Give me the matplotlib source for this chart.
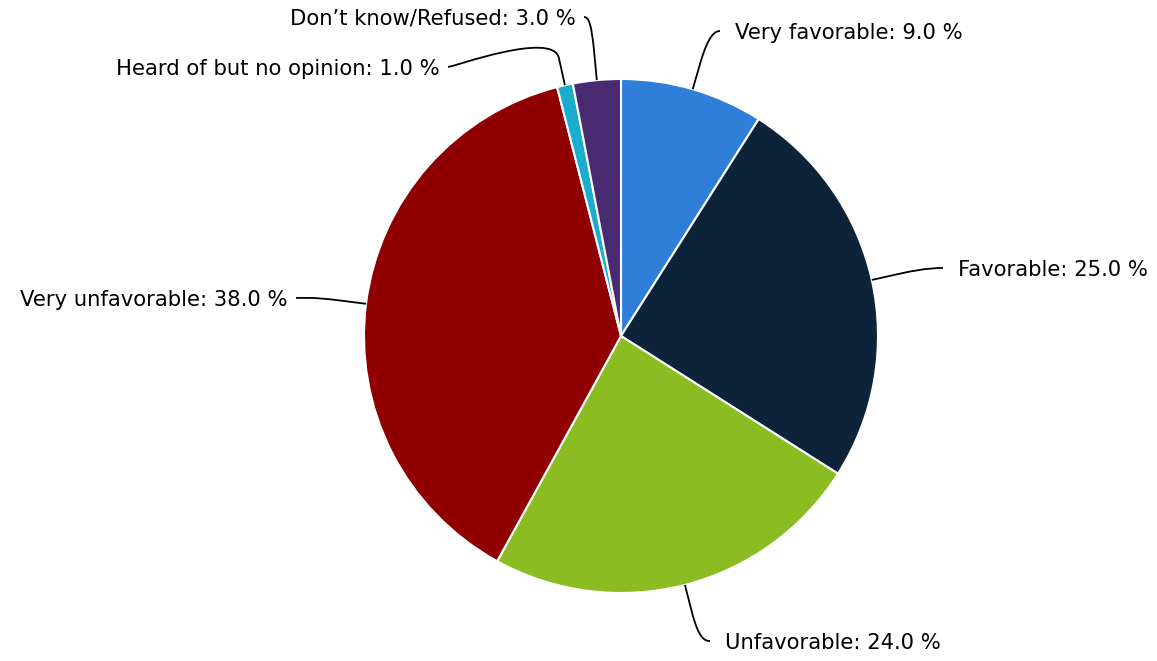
import numpy as np
import matplotlib.pyplot as plt
from matplotlib.path import Path
from matplotlib.patches import PathPatch

# survey answers, clockwise from 12 o'clock
categories = ['Very favorable', 'Favorable', 'Unfavorable', 'Very unfavorable',
              'Heard of but no opinion', 'Don\u2019t know/Refused']
shares = [9.0, 25.0, 24.0, 38.0, 1.0, 3.0]
colors = ['#2f7ed8', '#0d233a', '#8bbc21', '#910000', '#1aadce', '#492970']

W, H = 1157, 661
cx, cy, radius = 621, H - 336, 257
brk_off = 28  # connector break point, beyond the rim

# label anchor (px from left, px from top) and which side the label sits on
label_pos = [(735, 33), (958, 270), (725, 643), (288, 300), (440, 69), (576, 19)]
label_side = [1, 1, 1, -1, -1, -1]

fig = plt.figure(figsize=(W / 100, H / 100), dpi=100)
ax = fig.add_axes([0, 0, 1, 1])
wedges, _ = ax.pie(shares, colors=colors, startangle=90, counterclock=False,
                   center=(cx, cy), radius=radius,
                   wedgeprops=dict(edgecolor='white', linewidth=1.5))
ax.set_xlim(0, W)
ax.set_ylim(0, H)
ax.set_aspect('equal')
ax.axis('off')

for w, name, val, (lx, ly), side in zip(wedges, categories, shares, label_pos, label_side):
    mid = np.deg2rad((w.theta1 + w.theta2) / 2)
    u = np.array([np.cos(mid), np.sin(mid)])
    touch = np.array([cx, cy]) + radius * u
    brk = np.array([cx, cy]) + (radius + brk_off) * u
    ly = H - ly
    gap = 15 if side > 0 else 8
    start = np.array([lx - side * gap, ly + 2])
    # soft connector: bezier from label to break point, then straight to the slice
    c1 = start - np.array([side * 5, 0])
    c2 = 2 * brk - touch
    path = Path([start, c1, c2, brk, touch],
                [Path.MOVETO, Path.CURVE4, Path.CURVE4, Path.CURVE4, Path.LINETO])
    ax.add_patch(PathPatch(path, fill=False, edgecolor='black', linewidth=1.3))
    ax.text(lx, ly, f'{name}: {val:.1f} %', ha='left' if side > 0 else 'right',
            va='center', fontsize=15.2, color='black', family='DejaVu Sans')

fig.savefig('out.png', dpi=100)
